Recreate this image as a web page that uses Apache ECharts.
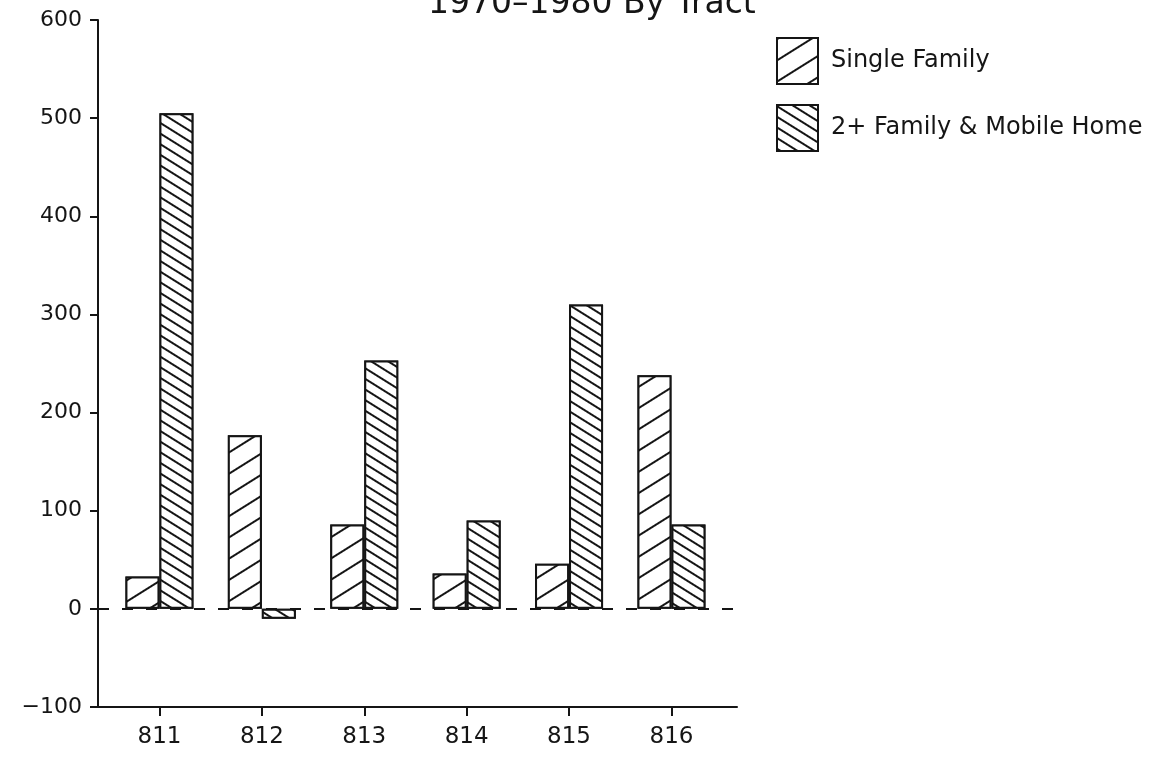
<!DOCTYPE html>
<html>
<head>
<meta charset="utf-8">
<title>1970–1980 By Tract</title>
<script src="https://cdn.jsdelivr.net/npm/echarts@6/dist/echarts.min.js"></script>
<style>
  html, body { margin: 0; padding: 0; background: #ffffff; }
  #chart { width: 1165px; height: 764px; }
</style>
</head>
<body>
<div id="chart"></div>
<script>
// Housing unit change by census tract, 1970–1980
const tracts = ['811', '812', '813', '814', '815', '816'];
const singleFamily = [33, 177, 86, 36, 46, 238];
const multiFamily = [505, -10, 253, 90, 310, 86];
const yTicks = [-100, 0, 100, 200, 300, 400, 500, 600];
const seriesNames = ['Single Family', '2+ Family & Mobile Home'];
const titleText = '1970\u20131980 By Tract';

const ink = '#151515';
const font = 'DejaVu Sans';

// tract positions along the x axis (1..n)
const positions = tracts.map((t, i) => i + 1);

const hatchForward = {
  symbol: 'rect',
  symbolSize: 1,
  color: ink,
  backgroundColor: '#ffffff',
  dashArrayX: [1, 0],
  dashArrayY: [2, 16],
  rotation: -0.56
};
const hatchBack = {
  symbol: 'rect',
  symbolSize: 1,
  color: ink,
  backgroundColor: '#ffffff',
  dashArrayX: [1, 0],
  dashArrayY: [2, 7],
  rotation: 0.56
};

const chart = echarts.init(document.getElementById('chart'), null, { renderer: 'canvas' });

chart.setOption({
  backgroundColor: '#ffffff',
  animation: false,
  title: {
    text: titleText,
    left: 423,
    top: -17,
    textStyle: { fontFamily: font, fontSize: 33, fontWeight: 'normal', color: ink }
  },
  legend: {
    orient: 'vertical',
    left: 771,
    top: 32,
    itemWidth: 41,
    itemHeight: 46,
    itemGap: 19,
    icon: 'rect',
    data: seriesNames,
    selectedMode: false,
    textStyle: { fontFamily: font, fontSize: 24, color: ink, padding: [0, 0, 0, 8] }
  },
  grid: { left: 98, right: 428, top: 20, bottom: 57, containLabel: false },
  xAxis: {
    type: 'value',
    min: 0.4,
    max: 6.64,
    axisLine: { show: true, onZero: false, lineStyle: { color: ink, width: 2 } },
    axisTick: { show: true, inside: false, length: 9, customValues: positions, lineStyle: { color: ink, width: 2 } },
    axisLabel: {
      show: true,
      customValues: positions,
      margin: 19,
      fontFamily: font,
      fontSize: 23,
      color: ink,
      formatter: v => tracts[Math.round(v) - 1] || ''
    },
    splitLine: { show: false }
  },
  yAxis: {
    type: 'value',
    min: -100,
    max: 600,
    interval: 100,
    axisLine: { show: true, onZero: false, lineStyle: { color: ink, width: 2 } },
    axisTick: { show: true, inside: false, length: 8, lineStyle: { color: ink, width: 2 } },
    axisLabel: {
      margin: 16,
      fontFamily: font,
      fontSize: 22,
      color: ink,
      formatter: v => (yTicks.indexOf(v) >= 0 ? (v < 0 ? '\u2212' + Math.abs(v) : String(v)) : '')
    },
    splitLine: { show: false }
  },
  series: [
    {
      name: seriesNames[0],
      type: 'bar',
      barWidth: 34,
      barGap: '0%',
      data: positions.map((p, i) => [p, singleFamily[i]]),
      itemStyle: { color: '#ffffff', borderColor: ink, borderWidth: 2, decal: hatchForward },
      markLine: {
        silent: true,
        symbol: ['none', 'none'],
        label: { show: false },
        lineStyle: { color: ink, width: 2, type: [11, 13] },
        data: [{ yAxis: 0 }]
      },
      z: 2
    },
    {
      name: seriesNames[1],
      type: 'bar',
      barWidth: 34,
      barGap: '0%',
      data: positions.map((p, i) => [p, multiFamily[i]]),
      itemStyle: { color: '#ffffff', borderColor: ink, borderWidth: 2, decal: hatchBack },
      z: 2
    }
  ]
});
</script>
</body>
</html>
